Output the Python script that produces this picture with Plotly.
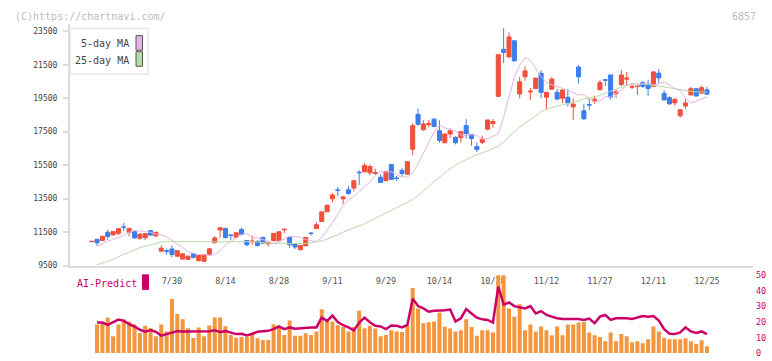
import plotly.graph_objects as go

# ---------------- data ----------------
# candle slot index 0..115 (trading days), date labels every 10 slots
label_idx = [15, 25, 35, 45, 55, 65, 75, 85, 95, 105, 115]
label_txt = ["7/30", "8/14", "8/28", "9/11", "9/29", "10/14", "10/28",
             "11/12", "11/27", "12/11", "12/25"]
price_ticks = [9500, 11500, 13500, 15500, 17500, 19500, 21500, 23500]
price_tick_txt = ["9500", "11500", "13500", "15500", "17500", "19500", "21500", "23500"]
lower_ticks = [0, 10, 20, 30, 40, 50]

opens = [10930, 11070, 11000, 11490, 11330, 11420, 11810, 11490, 11540, 11130,
         11160, 11590, 11270, 10360, 10390, 10490, 10060, 9890, 9870, 10210,
         9790, 9760, 10180, 10860, 11620, 11710, 11330, 11190, 11650, 11000,
         10920, 10940, 11190, 10800, 11000, 10970, 11640, 11190, 10800, 10450,
         10680, 11440, 11710, 12130, 12710, 13490, 14020, 13490, 14030, 14130,
         15080, 15100, 15040, 15000, 14780, 14570, 15540, 14730, 15190, 14960,
         16450, 18540, 17610, 17920, 18250, 17560, 16840, 17360, 17170, 17140,
         17870, 17340, 16610, 16860, 17650, 17980, 19610, 22420, 21960, 22930,
         19750, 20780, 19880, 20080, 20990, 19560, 20040, 19850, 19500, 19560,
         18980, 21360, 18750, 19120, 19320, 20000, 20600, 20890, 19780, 20320,
         20640, 20150, 20200, 20440, 20320, 20210, 21000, 19790, 19530, 19220,
         18450, 19030, 19690, 20070, 19800, 20000]
highs = [10960, 11080, 11260, 11650, 11540, 11720, 12040, 11765, 11580, 11420,
         11420, 11630, 11500, 10700, 10510, 10700, 10400, 10220, 10100, 10250,
         10120, 10160, 10560, 11260, 11780, 11780, 11340, 11480, 11760, 11020,
         11280, 11020, 11210, 10900, 11450, 11570, 11700, 11200, 10850, 10730,
         11200, 11500, 12100, 12720, 13150, 13840, 14200, 13680, 14260, 14600,
         15190, 15620, 15540, 15290, 14960, 15140, 15560, 14860, 15330, 15720,
         18000, 18870, 18190, 18190, 18300, 18190, 17380, 17710, 17200, 17520,
         18250, 17350, 16860, 17250, 18210, 18250, 22120, 23680, 23440, 22950,
         20770, 21420, 20110, 20710, 21160, 19860, 20770, 20050, 20000, 20040,
         19490, 21480, 19170, 19450, 19650, 20600, 20640, 20900, 20040, 21190,
         21060, 20420, 20320, 20520, 20610, 21120, 21250, 19980, 19620, 19530,
         18820, 19450, 20190, 20080, 20270, 20190]
lows = [10920, 10680, 10980, 11030, 11300, 11320, 11570, 11260, 11120, 11030,
        11030, 11300, 11200, 10290, 10160, 10000, 10040, 9870, 9850, 9900,
        9770, 9710, 10140, 10840, 11170, 11120, 11030, 11170, 11300, 10650,
        10740, 10650, 10830, 10640, 10950, 10960, 11420, 10550, 10490, 10390,
        10670, 11300, 11700, 12100, 12700, 13280, 13640, 13160, 13740, 13930,
        14320, 15080, 14900, 14910, 14450, 14550, 14640, 14560, 14810, 14940,
        16100, 17850, 17550, 17750, 17780, 16840, 16820, 17130, 16740, 16860,
        17090, 16670, 16280, 16760, 17580, 17730, 19570, 21600, 21950, 21720,
        19500, 20540, 19380, 20060, 19500, 18830, 20020, 19370, 19200, 19000,
        18200, 20380, 18200, 18780, 19160, 19990, 20230, 19420, 19510, 20230,
        20230, 20030, 19690, 20110, 19630, 20190, 20420, 19360, 19120, 19060,
        18350, 18870, 19680, 19620, 19790, 19700]
closes = [10950, 10860, 11250, 11240, 11530, 11707, 11790, 11720, 11150, 11380,
          11415, 11320, 11490, 10540, 10360, 10160, 10390, 10200, 10060, 10000,
          10100, 10150, 10500, 11150, 11760, 11170, 11300, 11460, 11360, 10740,
          10960, 10700, 10840, 10890, 11420, 11520, 11670, 10740, 10610, 10700,
          11180, 11420, 11940, 12710, 13100, 13720, 13990, 13600, 13800, 14570,
          15050, 15480, 15420, 15060, 14460, 15130, 14650, 14700, 15000, 15710,
          17860, 17940, 17960, 17980, 17810, 16980, 17360, 17550, 16840, 17500,
          17380, 17090, 16430, 17050, 18200, 18110, 22100, 22230, 23160, 21730,
          20480, 21130, 19920, 20700, 19850, 19850, 20640, 19450, 19990, 19220,
          19150, 20780, 18270, 19090, 19440, 20440, 20580, 19570, 19880, 20890,
          20700, 20190, 20250, 20210, 20080, 21070, 20710, 19400, 19160, 19430,
          18810, 19220, 20070, 19630, 20130, 19740]

# moving averages as drawn (one value per slot, slot 0 empty)
ma5 = [None, 10650, 10800, 10960, 11060, 11162, 11312, 11492, 11584, 11566,
       11540, 11482, 11388, 11342, 11224, 11020, 10770, 10584, 10330, 10234,
       10162, 10150, 10102, 10160, 10378, 10730, 10944, 11174, 11368, 11410,
       11206, 11164, 11044, 10920, 10826, 10962, 11074, 11268, 11248, 11192,
       11048, 10980, 10930, 11170, 11590, 12070, 12570, 13084, 13416, 13634,
       13928, 14202, 14500, 14864, 15116, 15094, 15110, 14944, 14800, 14788,
       15038, 15584, 16242, 16894, 17490, 17910, 17734, 17618, 17536, 17308,
       17246, 17326, 17272, 17048, 17090, 17230, 17376, 18378, 19538, 20760,
       21466, 21940, 21746, 21284, 20792, 20416, 20290, 20192, 20098, 19956,
       19830, 19690, 19718, 19482, 19302, 19346, 19604, 19564, 19824, 19982,
       20272, 20324, 20246, 20382, 20448, 20286, 20360, 20464, 20294, 20084,
       19954, 19502, 19204, 19338, 19432, 19572]
ma25 = [None, 9540, 9650, 9760, 9870, 10030, 10180, 10330, 10440, 10570,
        10660, 10760, 10860, 10910, 10930, 10940, 10940, 10935, 10930, 10925,
        10915, 10905, 10900, 10905, 10915, 10923, 10932, 10948, 10957, 10962,
        10932, 10902, 10858, 10824, 10814, 10816, 10820, 10834, 10805, 10808,
        10822, 10862, 10904, 10973, 11079, 11203, 11346, 11500, 11624, 11730,
        11843, 11998, 12165, 12324, 12472, 12620, 12787, 12945, 13100, 13264,
        13436, 13689, 13940, 14229, 14524, 14808, 15040, 15278, 15502, 15667,
        15843, 15991, 16115, 16228, 16358, 16504, 16626, 16891, 17163, 17487,
        17778, 17992, 18251, 18460, 18688, 18854, 18933, 19041, 19101, 19181,
        19238, 19324, 19461, 19490, 19580, 19658, 19780, 19920, 20045, 20158,
        20266, 20370, 20370, 20350, 20320, 20280, 20230, 20180, 20120, 20060,
        20000, 19950, 19910, 19880, 19870, 19860]

# lower panel (slot 0 empty)
volume = [None, 18.4, 19.2, 22.8, 10.8, 18.4, 21.7, 20.3, 18.4, 12.9,
          17.5, 16.0, 10.8, 18.4, 13.9, 34.8, 25.3, 21.7, 16.0, 9.7,
          16.5, 10.8, 17.7, 22.8, 22.8, 17.3, 11.6, 9.9, 10.3, 10.3,
          12.4, 9.5, 8.4, 8.4, 18.6, 17.5, 11.6, 20.9, 11.2, 11.2,
          12.7, 11.6, 13.9, 28.1, 21.7, 20.3, 17.9, 16.7, 13.9, 16.7,
          27.2, 16.0, 17.5, 15.8, 10.8, 11.6, 14.6, 13.9, 13.5, 17.5,
          41.8, 28.7, 19.2, 19.8, 20.3, 25.9, 17.0, 15.8, 13.9, 14.6,
          21.7, 16.7, 11.2, 14.6, 14.6, 13.3, 52.0, 52.0, 28.7, 23.4,
          31.4, 14.6, 18.4, 13.9, 17.1, 14.6, 11.4, 17.1, 11.4, 18.4,
          18.4, 19.6, 20.0, 13.3, 11.4, 10.3, 7.6, 13.3, 7.6, 12.2,
          10.8, 7.0, 7.6, 6.3, 8.9, 17.1, 13.9, 9.7, 8.9, 8.9,
          8.9, 9.5, 7.6, 5.9, 8.2, 4.4]
ai_predict = [None, 19.6, 19.6, 18.1, 19.6, 21.5, 20.7, 18.6, 17.1, 15.0,
              13.7, 14.8, 13.7, 11.2, 12.2, 13.3, 14.1, 13.9, 13.9, 13.9,
              13.9, 13.9, 14.1, 14.6, 13.5, 14.1, 12.9, 12.2, 12.4, 11.4,
              12.4, 13.7, 14.1, 14.3, 15.4, 17.1, 15.4, 16.5, 15.6, 16.0,
              16.5, 16.5, 16.5, 22.8, 20.7, 24.1, 20.0, 17.9, 16.5, 14.6,
              19.6, 22.8, 19.8, 17.5, 17.1, 15.4, 17.7, 17.5, 16.5, 18.1,
              35.0, 30.2, 28.7, 26.6, 27.2, 27.2, 27.6, 28.0, 20.3, 22.4,
              28.3, 25.5, 22.8, 21.7, 21.3, 19.6, 42.8, 31.2, 32.5, 30.2,
              29.3, 28.7, 30.2, 25.5, 27.0, 24.5, 23.4, 22.4, 21.9, 21.9,
              21.9, 21.9, 21.3, 22.2, 19.2, 23.4, 24.5, 21.3, 22.4, 22.4,
              22.4, 21.9, 22.8, 23.8, 23.4, 23.8, 20.9, 15.4, 12.4, 12.2,
              13.3, 16.5, 13.9, 12.9, 13.9, 12.2]

idx = list(range(len(closes)))

# ---------------- styling ----------------
W, H = 772, 361
ML, MR = 70, 19
PW = W - ML - MR


def px(x):
    return (x - ML) / PW


def py(y):
    return 1 - y / H


RED = "#F0503C"
BLUE = "#3D7DEB"
PINK = "#E6B2E6"
GREEN = "#B6DAA6"
ORANGE = "#F2963F"
MAG = "#CC0066"
AXC = "#DCDCDC"
MONO = "DejaVu Sans Mono"

X0 = (70 - 91.7) / 5.35
X1 = (753 - 91.7) / 5.35
YLO = 9500
YHI = 9500 + 248 * (14000 / 241)

fig = go.Figure()
fig.add_trace(go.Scatter(x=idx, y=ma25, mode="lines", line=dict(color=GREEN, width=1),
                         xaxis="x", yaxis="y", hoverinfo="skip"))
fig.add_trace(go.Scatter(x=idx, y=ma5, mode="lines", line=dict(color=PINK, width=1),
                         xaxis="x", yaxis="y", hoverinfo="skip"))
fig.add_trace(go.Candlestick(
    x=idx, open=opens, high=highs, low=lows, close=closes,
    increasing=dict(line=dict(color=RED, width=1), fillcolor=RED),
    decreasing=dict(line=dict(color=BLUE, width=1), fillcolor=BLUE),
    whiskerwidth=0, xaxis="x", yaxis="y", hoverinfo="skip"))
fig.add_trace(go.Bar(x=idx, y=volume, width=0.75, marker=dict(color=ORANGE, line=dict(width=0)),
                     xaxis="x", yaxis="y2", hoverinfo="skip"))
fig.add_trace(go.Scatter(x=idx, y=ai_predict, mode="lines", line=dict(color=MAG, width=2.5),
                         xaxis="x", yaxis="y2", hoverinfo="skip"))

tick_common = dict(showgrid=False, zeroline=False, showticklabels=False, showline=False,
                   tickcolor=AXC, tickwidth=1.5)

fig.update_layout(
    width=W, height=H, showlegend=False, hovermode=False,
    margin=dict(l=ML, r=MR, t=0, b=0),
    paper_bgcolor="white", plot_bgcolor="white",
    boxgap=0.2, boxgroupgap=0.05,
    font=dict(family=MONO, color="#444"),
    xaxis=dict(domain=[0, 1], range=[X0, X1], anchor="y", showgrid=False, zeroline=False,
               showline=True, linecolor=AXC, linewidth=2, ticks="",
               tickmode="array", tickvals=label_idx, ticktext=label_txt,
               tickfont=dict(family=MONO, size=8.5, color="#555"), ticklabelstandoff=6,
               rangeslider=dict(visible=False)),
    xaxis3=dict(overlaying="x", anchor="y", range=[0, 11], tickmode="array",
                tickvals=list(range(1, 12)), ticks="outside", ticklen=5, **tick_common),
    xaxis4=dict(overlaying="x", anchor="y", range=[0, 11], tickmode="array",
                tickvals=list(range(1, 12)), ticks="inside", ticklen=3, **tick_common),
    yaxis=dict(domain=[py(268), py(20)], range=[YLO, YHI], anchor="x", showgrid=False,
               zeroline=False, showline=True, linecolor=AXC, linewidth=2,
               tickmode="array", tickvals=price_ticks, ticktext=price_tick_txt,
               ticks="outside", ticklen=5, tickcolor=AXC, tickwidth=1.5,
               tickfont=dict(family=MONO, size=8, color="#444"), ticklabelstandoff=4),
    yaxis3=dict(overlaying="y", anchor="x", range=[YLO, YHI], tickmode="array",
                tickvals=price_ticks, ticks="inside", ticklen=3,
                side="left", **tick_common),
    yaxis2=dict(domain=[py(358), py(278)], range=[0, 50], anchor="x", side="right",
                showgrid=False, zeroline=False, showline=False, ticks="",
                tickmode="array", tickvals=lower_ticks,
                tickfont=dict(family=MONO, size=8.5, color=MAG), ticklabelstandoff=2),
)

shapes = [
    dict(type="rect", xref="paper", yref="paper", x0=px(70), x1=px(148), y0=py(71), y1=py(24),
         line=dict(color="#DDDDDD", width=1), fillcolor="white", layer="above"),
    dict(type="rect", xref="paper", yref="paper", x0=px(136), x1=px(142.5), y0=py(46.5), y1=py(31.5),
         line=dict(color="#555", width=1), fillcolor=PINK, layer="above"),
    dict(type="rect", xref="paper", yref="paper", x0=px(136), x1=px(142.5), y0=py(63), y1=py(48),
         line=dict(color="#555", width=1), fillcolor=GREEN, layer="above"),
    dict(type="rect", xref="paper", yref="paper", x0=px(142), x1=px(149), y0=py(293), y1=py(277),
         line=dict(width=0), fillcolor=MAG, layer="above"),
]
annotations = [
    dict(text="(C)https://chartnavi.com/", xref="paper", yref="paper", x=px(13), y=py(12),
         xanchor="left", yanchor="middle", showarrow=False,
         font=dict(family=MONO, size=10, color="#BBBBBB")),
    dict(text="6857", xref="paper", yref="paper", x=px(758), y=py(12),
         xanchor="right", yanchor="middle", showarrow=False,
         font=dict(family=MONO, size=10, color="#BBBBBB")),
    dict(text="5-day MA", xref="paper", yref="paper", x=px(131), y=py(40),
         xanchor="right", yanchor="middle", showarrow=False,
         font=dict(family=MONO, size=10, color="#444")),
    dict(text="25-day MA", xref="paper", yref="paper", x=px(131), y=py(57),
         xanchor="right", yanchor="middle", showarrow=False,
         font=dict(family=MONO, size=10, color="#444")),
    dict(text="AI-Predict", xref="paper", yref="paper", x=px(75), y=py(286),
         xanchor="left", yanchor="middle", showarrow=False,
         font=dict(family=MONO, size=10, color=MAG)),
]
fig.update_layout(shapes=shapes, annotations=annotations)

fig.write_html("out.html", config={"displayModeBar": False},
               post_script="document.body.style.margin='0';document.body.style.overflow='hidden';")
